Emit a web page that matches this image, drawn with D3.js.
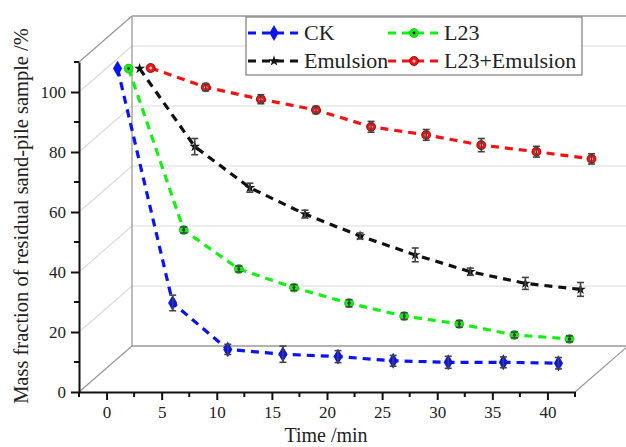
<!DOCTYPE html>
<html>
<head>
<meta charset="utf-8">
<script src="https://cdn.jsdelivr.net/npm/d3@7"></script>
<style>
body { margin: 0; background: #fff; }
svg text { font-family: "Liberation Serif", "Times New Roman", serif !important; fill: #222; }
</style>
</head>
<body>
<svg id="chart" width="626" height="447"></svg>
<script>
// data
var ckTime = [1, 6, 11, 16, 21, 26, 31, 36, 41];
var ckVal = [107.8, 29.7, 14.2, 12.6, 11.8, 10.4, 9.9, 9.9, 9.6];
var ckErr = [0, 2.6, 1.7, 2.7, 2, 1.8, 2, 1.8, 1.9];

var l23Time = [2, 7, 12, 17, 22, 27, 32, 37, 42];
var l23Val = [107.8, 54, 41, 34.8, 29.6, 25.3, 22.7, 19, 17.7];
var l23Err = [0, 1, 1, 1, 1.2, 1.1, 1.1, 1, 1];

var emTime = [3, 8, 13, 18, 23, 28, 33, 38, 43];
var emVal = [107.8, 81.8, 68.1, 59.3, 52, 45.7, 40.1, 36.2, 34.2];
var emErr = [0, 2.7, 1.5, 1.3, 1, 2.3, 1.2, 2, 2.3];

var mixTime = [4, 9, 14, 19, 24, 29, 34, 39, 44];
var mixVal = [108, 101.6, 97.6, 94, 88.4, 85.7, 82.3, 80.1, 77.7];
var mixErr = [0, 1.2, 1.5, 1.2, 1.8, 1.8, 2.2, 1.8, 1.7];

var xTicks = [0, 5, 10, 15, 20, 25, 30, 35, 40];
var yTicks = [0, 20, 40, 60, 80, 100];

var serif = "'Liberation Serif', 'Times New Roman', serif";
var svg = d3.select('#chart');
var x = d3.scaleLinear().domain([-2.5, 42.5]).range([79, 575]);
var y = d3.scaleLinear().domain([0, 110]).range([392, 62]);
var dx = 53, dy = -46; // depth of the back wall

var x0 = x(-2.5), x1 = x(42.5), y0 = y(0), y1 = y(110);

// back wall + side wall grid
var grid = svg.append("g");
yTicks.slice(1).forEach(function(v) {
	grid.append("line").attr("x1", x0 + dx).attr("x2", x1 + dx)
		.attr("y1", y(v) + dy).attr("y2", y(v) + dy)
		.attr("stroke", "#dcdcdc").attr("stroke-width", 1.2);
	grid.append("line").attr("x1", x0).attr("x2", x0 + dx)
		.attr("y1", y(v)).attr("y2", y(v) + dy)
		.attr("stroke", "#dcdcdc").attr("stroke-width", 1.2);
});

var frame = [
	[x0 + dx, y1 + dy, x1 + dx, y1 + dy],
	[x0 + dx, y0 + dy, x1 + dx, y0 + dy],
	[x0 + dx, y1 + dy, x0 + dx, y0 + dy],
	[x0, y1, x0 + dx, y1 + dy],
	[x0, y0, x0 + dx, y0 + dy],
	[x1, y0, x1 + dx, y0 + dy]
];
grid.selectAll(".frame").data(frame).enter().append("line")
	.attr("x1", function(d) { return d[0]; }).attr("y1", function(d) { return d[1]; })
	.attr("x2", function(d) { return d[2]; }).attr("y2", function(d) { return d[3]; })
	.attr("stroke", "#999").attr("stroke-width", 1.3);

// axes
var xAxis = d3.axisBottom(x).tickValues(xTicks).tickSize(8).tickSizeOuter(0).tickPadding(6);
var gx = svg.append("g").attr("transform", "translate(0," + y0 + ")").call(xAxis);
var xMinor = d3.range(-2.5, 42.6, 5);
gx.selectAll(".minor").data(xMinor).enter().append("line")
	.attr("x1", function(d) { return x(d); }).attr("x2", function(d) { return x(d); })
	.attr("y1", 0).attr("y2", 5).attr("stroke", "#111").attr("stroke-width", 2);

var yAxis = d3.axisLeft(y).tickValues(yTicks).tickSize(8).tickSizeOuter(0).tickPadding(5);
var gy = svg.append("g").attr("transform", "translate(" + x0 + ",0)").call(yAxis);
gy.selectAll(".minor").data([10, 30, 50, 70, 90, 110]).enter().append("line")
	.attr("x1", 0).attr("x2", -5)
	.attr("y1", function(d) { return y(d); }).attr("y2", function(d) { return y(d); })
	.attr("stroke", "#111").attr("stroke-width", 2);

[gx, gy].forEach(function(g) {
	g.attr("font-family", serif);
	g.select(".domain").attr("stroke", "#111").attr("stroke-width", 2);
	g.selectAll(".tick line").attr("stroke", "#111").attr("stroke-width", 2);
	g.selectAll(".tick text").style("font-size", "17px").style("font-family", serif).attr("fill", "#222");
});

svg.append("text").attr("x", 326).attr("y", 442).attr("text-anchor", "middle")
	.style("font-family", serif).style("font-size", "20px").text("Time /min");
svg.append("text").attr("transform", "translate(28,216) rotate(-90)")
	.attr("text-anchor", "middle").style("font-family", serif).style("font-size", "20.5px")
	.text("Mass fraction of residual sand-pile sample /%");

// series
var series = [
	{ name: "CK", t: ckTime, v: ckVal, e: ckErr, color: "#0a14f0", shape: "diamond" },
	{ name: "L23", t: l23Time, v: l23Val, e: l23Err, color: "#14f014", shape: "dotcircle" },
	{ name: "Emulsion", t: emTime, v: emVal, e: emErr, color: "#111", shape: "star" },
	{ name: "L23+Emulsion", t: mixTime, v: mixVal, e: mixErr, color: "#f01414", shape: "ringcircle" }
];

var line = d3.line()
	.x(function(d) { return x(d.t); })
	.y(function(d) { return y(d.v); });

function drawMarker(g, s, px, py, size) {
	if (s.shape == "diamond") {
		g.append("path").attr("d", d3.symbol(d3.symbolDiamond, size * size * 0.9)())
			.attr("transform", "translate(" + px + "," + py + ")").attr("fill", s.color);
	} else if (s.shape == "star") {
		g.append("path").attr("d", d3.symbol(d3.symbolStar, size * size * 0.45)())
			.attr("transform", "translate(" + px + "," + py + ")").attr("fill", s.color);
	} else if (s.shape == "dotcircle") {
		g.append("circle").attr("cx", px).attr("cy", py).attr("r", size * 0.5).attr("fill", s.color)
			.attr("stroke", "#0a0").attr("stroke-width", 0.6);
		g.append("circle").attr("cx", px).attr("cy", py).attr("r", size * 0.16).attr("fill", "#111");
	} else {
		g.append("circle").attr("cx", px).attr("cy", py).attr("r", size * 0.5).attr("fill", s.color)
			.attr("stroke", "#700").attr("stroke-width", 0.8);
		g.append("circle").attr("cx", px).attr("cy", py).attr("r", size * 0.17).attr("fill", "#fcc");
	}
}

series.forEach(function(s) {
	var data = s.t.map(function(t, i) { return { t: t, v: s.v[i], e: s.e[i] }; });
	var g = svg.append("g");
	g.append("path").datum(data).attr("d", line)
		.attr("fill", "none").attr("stroke", s.color).attr("stroke-width", 3.2)
		.attr("stroke-dasharray", "8,6");
	data.forEach(function(d) {
		drawMarker(g, s, x(d.t), y(d.v), 9);
		if (d.e > 0) {
			var eb = g.append("g").attr("stroke", "#444").attr("stroke-width", 1.6);
			eb.append("line").attr("x1", x(d.t)).attr("x2", x(d.t))
				.attr("y1", y(d.v + d.e)).attr("y2", y(d.v - d.e));
			eb.append("line").attr("x1", x(d.t) - 3.5).attr("x2", x(d.t) + 3.5)
				.attr("y1", y(d.v + d.e)).attr("y2", y(d.v + d.e));
			eb.append("line").attr("x1", x(d.t) - 3.5).attr("x2", x(d.t) + 3.5)
				.attr("y1", y(d.v - d.e)).attr("y2", y(d.v - d.e));
		}
	});
});

// legend
var lg = svg.append("g");
lg.append("rect").attr("x", 246).attr("y", 17).attr("width", 336).attr("height", 58)
	.attr("fill", "#fff").attr("stroke", "#888").attr("stroke-width", 1.3);
var legendPos = [[248, 33], [388, 33], [248, 61], [388, 61]];
series.forEach(function(s, i) {
	var p = legendPos[i];
	lg.append("line").attr("x1", p[0]).attr("x2", p[0] + 54).attr("y1", p[1]).attr("y2", p[1])
		.attr("stroke", s.color).attr("stroke-width", 3).attr("stroke-dasharray", "8,6");
	drawMarker(lg, s, p[0] + 26, p[1], 9);
	lg.append("text").attr("x", p[0] + 56).attr("y", p[1] + 7)
		.style("font-family", serif).style("font-size", "22px").text(s.name);
});
</script>
</body>
</html>
